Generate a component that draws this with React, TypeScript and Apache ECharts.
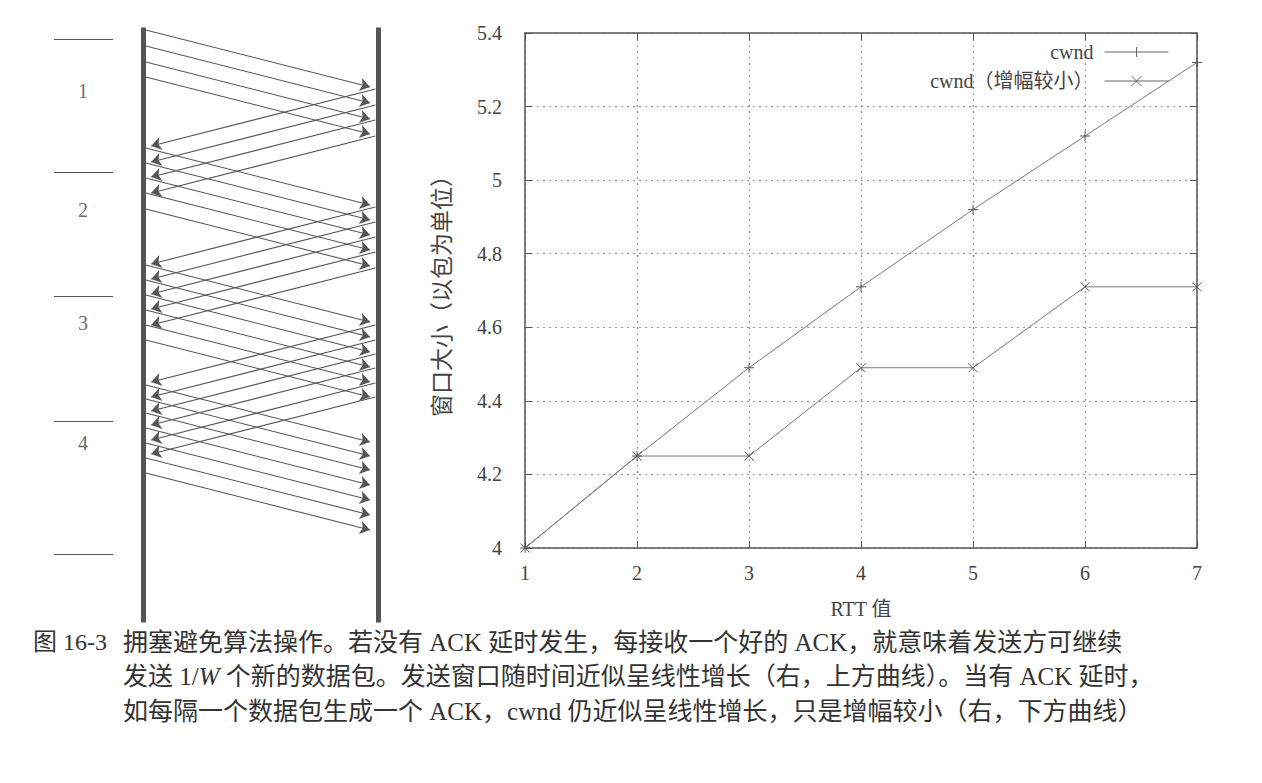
import React, { useEffect, useRef } from "react";
import * as echarts from "echarts";

// ---------- Left diagram data (time measured downward) ----------
const roundSends: number[][] = [
  [0, 16, 32, 47],
  [118, 133, 148, 163, 179],
  [235, 250, 265, 280, 295, 310],
  [355, 369, 383, 398, 413, 428, 443],
];
const roundAcks: number[][] = [
  [59, 75, 90, 106],
  [177, 192, 207, 222, 238],
  [295, 310, 324, 338, 353, 367],
];
const TRANSIT = 57;
const roundBoundaries = [9, 142, 266, 391, 524];
const roundLabels = ["1", "2", "3", "4"];
const roundLabelTimes = [61, 180, 293, 413];
const hostTimeSpan = [-2, 592];

// ---------- Right chart data ----------
const rtt = [1, 2, 3, 4, 5, 6, 7];
const cwnd = [4, 4.25, 4.49, 4.71, 4.92, 5.12, 5.32];
const cwndSlow = [4, 4.25, 4.25, 4.49, 4.49, 4.71, 4.71];
const seriesNames = ["cwnd", "cwnd（增幅较小）"];
const xAxisName = "RTT 值";
const yAxisName = "窗口大小（以包为单位）";

// ---------- Caption ----------
const captionLabel = "图 16-3";
const captionLines = [
  "拥塞避免算法操作。若没有 ACK 延时发生，每接收一个好的 ACK，就意味着发送方可继续",
  "发送 1/{i|W} 个新的数据包。发送窗口随时间近似呈线性增长（右，上方曲线）。当有 ACK 延时，",
  "如每隔一个数据包生成一个 ACK，cwnd 仍近似呈线性增长，只是增幅较小（右，下方曲线）",
];

const SERIF = "Liberation Serif, Times New Roman, Noto Sans CJK SC, serif";
const INK = "#444";
const LINE = "#666";

const PLUS = "path://M0,5 L10,5 M5,0 L5,10";
const CROSS = "path://M0,0 L10,10 M0,10 L10,0";

export default function App() {
  const ref = useRef<HTMLDivElement>(null);
  useEffect(() => {
    if (!ref.current) return;
    const chart = echarts.init(ref.current, undefined, { renderer: "svg" });

    const X0 = 0.011;
    const X1 = 0.966;
    const dataArrows = roundSends.flat().map((t) => ({ coords: [[X0, t], [X1, t + TRANSIT]] }));
    const ackArrows = roundAcks.flat().map((t) => ({ coords: [[1 - X0, t], [1 - X1, t + TRANSIT]] }));
    const hosts = [0, 1].map((x) => ({ coords: [[x, hostTimeSpan[0]], [x, hostTimeSpan[1]]] }));
    const bounds = roundBoundaries.map((t) => ({ coords: [[-0.38, t], [-0.128, t]] }));

    const frameAxis = {
      axisLine: { show: true, onZero: false, lineStyle: { color: "#555", width: 1.5 } },
      axisTick: { show: true, inside: true, length: 7, lineStyle: { color: "#555" } },
    };

    const option: any = {
      animation: false,
      backgroundColor: "#fff",
      grid: [
        { left: 54, top: 30, width: 324, height: 590 },
        { left: 525, top: 33, width: 672, height: 515 },
      ],
      xAxis: [
        { gridIndex: 0, type: "value", min: -0.38, max: 1, show: false },
        {
          gridIndex: 1,
          type: "value",
          min: 1,
          max: 7,
          interval: 1,
          name: xAxisName,
          nameLocation: "middle",
          nameGap: 51,
          nameTextStyle: { fontFamily: SERIF, fontSize: 20, color: INK },
          ...frameAxis,
          axisLabel: { fontFamily: SERIF, fontSize: 20, color: INK, margin: 15 },
          splitLine: { show: true, lineStyle: { color: "#999", type: [2, 4], width: 1 } },
        },
        {
          gridIndex: 1,
          type: "value",
          min: 1,
          max: 7,
          interval: 1,
          position: "top",
          ...frameAxis,
          axisLabel: { show: false },
          splitLine: { show: false },
        },
      ],
      yAxis: [
        { gridIndex: 0, type: "value", min: 0, max: 590, inverse: true, show: false },
        {
          gridIndex: 1,
          type: "value",
          min: 4,
          max: 5.4,
          interval: 0.2,
          name: yAxisName,
          nameLocation: "middle",
          nameGap: 71,
          nameTextStyle: { fontFamily: SERIF, fontSize: 23, color: INK },
          ...frameAxis,
          axisLabel: { fontFamily: SERIF, fontSize: 20, color: INK, margin: 23 },
          splitLine: { show: true, lineStyle: { color: "#999", type: [2, 4], width: 1 } },
        },
        {
          gridIndex: 1,
          type: "value",
          min: 4,
          max: 5.4,
          interval: 0.2,
          position: "right",
          ...frameAxis,
          axisLabel: { show: false },
          splitLine: { show: false },
        },
      ],
      legend: [
        {
          data: [seriesNames[0]],
          right: 88,
          top: 37,
          align: "right",
          itemWidth: 64,
          itemHeight: 10,
          icon: "path://M0,5 L64,5 M32,0 L32,10",
          itemStyle: { color: "rgba(0,0,0,0)", borderColor: LINE, borderWidth: 1 },
          textStyle: { fontFamily: SERIF, fontSize: 20, color: INK, padding: [0, 6, 0, 0] },
          selectedMode: false,
        },
        {
          data: [seriesNames[1]],
          right: 88,
          top: 66,
          align: "right",
          itemWidth: 64,
          itemHeight: 10,
          icon: "path://M0,5 L64,5 M27,0 L37,10 M27,10 L37,0",
          itemStyle: { color: "rgba(0,0,0,0)", borderColor: LINE, borderWidth: 1 },
          textStyle: { fontFamily: SERIF, fontSize: 20, color: INK, padding: [0, 6, 0, 0] },
          selectedMode: false,
        },
      ],
      series: [
        {
          type: "lines",
          coordinateSystem: "cartesian2d",
          xAxisIndex: 0,
          yAxisIndex: 0,
          data: hosts,
          symbol: ["none", "none"],
          lineStyle: { color: "#555", width: 5, opacity: 1, cap: "round" },
          silent: true,
        },
        {
          type: "lines",
          coordinateSystem: "cartesian2d",
          xAxisIndex: 0,
          yAxisIndex: 0,
          data: bounds,
          symbol: ["none", "none"],
          lineStyle: { color: "#555", width: 1.2, opacity: 1 },
          silent: true,
        },
        {
          type: "lines",
          coordinateSystem: "cartesian2d",
          xAxisIndex: 0,
          yAxisIndex: 0,
          data: [...dataArrows, ...ackArrows],
          symbol: ["none", "arrow"],
          symbolSize: 10,
          itemStyle: { color: "#444" },
          lineStyle: { color: "#555", width: 1.1, opacity: 1 },
          silent: true,
        },
        {
          type: "scatter",
          xAxisIndex: 0,
          yAxisIndex: 0,
          data: roundLabelTimes.map((t, i) => ({ value: [-0.256, t], name: roundLabels[i] })),
          symbolSize: 0,
          label: {
            show: true,
            position: "inside",
            formatter: (p: any) => p.name,
            fontFamily: SERIF,
            fontSize: 20,
            color: INK,
          },
          silent: true,
        },
        {
          name: seriesNames[0],
          type: "line",
          xAxisIndex: 1,
          yAxisIndex: 1,
          data: rtt.map((x, i) => [x, cwnd[i]]),
          symbol: PLUS,
          symbolSize: 10,
          itemStyle: { color: "rgba(0,0,0,0)", borderColor: "#555", borderWidth: 1 },
          lineStyle: { color: "#777", width: 1 },
          clip: false,
          z: 3,
        },
        {
          name: seriesNames[1],
          type: "line",
          xAxisIndex: 1,
          yAxisIndex: 1,
          data: rtt.map((x, i) => [x, cwndSlow[i]]),
          symbol: CROSS,
          symbolSize: 9,
          itemStyle: { color: "rgba(0,0,0,0)", borderColor: "#555", borderWidth: 1 },
          lineStyle: { color: "#777", width: 1 },
          clip: false,
          z: 3,
        },
      ],
      graphic: [
        {
          type: "text",
          x: 33,
          y: 642,
          style: {
            text: captionLabel,
            font: `24px ${SERIF}`,
            fill: "#333",
            verticalAlign: "middle",
          },
        },
        ...captionLines.map((line, i) => ({
          type: "text",
          x: 123,
          y: 642 + i * 34.5,
          style: {
            text: line,
            font: `25px ${SERIF}`,
            fill: "#333",
            verticalAlign: "middle",
            rich: { i: { fontStyle: "italic", fontFamily: SERIF, fontSize: 25, fill: "#333" } },
          },
        })),
      ],
    };
    chart.setOption(option);
    return () => chart.dispose();
  }, []);
  return (
    <div
      ref={ref}
      style={{ position: "absolute", left: 0, top: 0, width: 1262, height: 783, background: "#fff" }}
    />
  );
}
